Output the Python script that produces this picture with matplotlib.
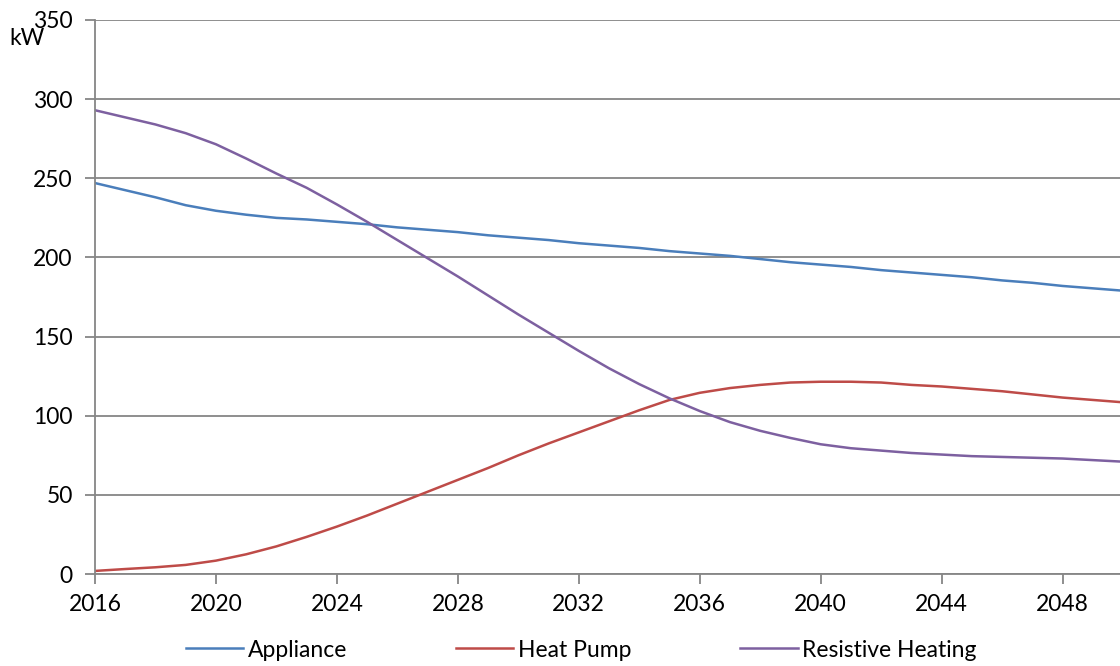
import matplotlib
matplotlib.use("Agg")
import matplotlib.pyplot as plt

years = list(range(2016, 2051))

appliance = [247, 242.5, 238, 233, 229.5, 227, 225, 224, 222.5, 221,
             219, 217.5, 216, 214, 212.5, 211, 209, 207.5, 206, 204,
             202.5, 201, 199, 197, 195.5, 194, 192, 190.5, 189, 187.5,
             185.5, 184, 182, 180.5, 179]

heat_pump = [2, 3.2, 4.3, 5.8, 8.5, 12.5, 17.5, 23.5, 30, 37,
             44.5, 52, 59.5, 67, 75, 82.5, 89.5, 96.5, 103.5, 110,
             114.5, 117.5, 119.5, 121, 121.5, 121.5, 121, 119.5, 118.5, 117,
             115.5, 113.5, 111.5, 110, 108.5]

resistive = [293, 288.5, 284, 278.5, 271.5, 262.5, 253, 244, 233.5, 222.5,
             211, 199.5, 188, 176, 164, 152.5, 141, 130, 120, 111,
             103, 96, 90.5, 86, 82, 79.5, 78, 76.5, 75.5, 74.5,
             74, 73.5, 73, 72, 71]

x_ticks = list(range(2016, 2049, 4))
y_ticks = list(range(0, 351, 50))

plt.rcParams['font.family'] = ['Lato', 'DejaVu Sans']
plt.rcParams['font.size'] = 16.5

fig = plt.figure(figsize=(11.2, 6.66), dpi=100)
ax = fig.add_axes([0.0848, 0.138, 0.9152, 0.832])

grey = "#868686"
ax.plot(years, appliance, color="#4a7ebb", lw=1.8, label="Appliance")
ax.plot(years, heat_pump, color="#be4b48", lw=1.8, label="Heat Pump")
ax.plot(years, resistive, color="#7d60a0", lw=1.8, label="Resistive Heating")

ax.set_xlim(2016, 2049.9)
ax.set_ylim(0, 350)
ax.set_xticks(x_ticks)
ax.set_yticks(y_ticks)
ax.yaxis.grid(True, color=grey, lw=1.3)
ax.set_axisbelow(True)

for side in ("top", "right"):
    ax.spines[side].set_visible(False)
for side in ("left", "bottom"):
    ax.spines[side].set_color(grey)
    ax.spines[side].set_linewidth(1.3)
ax.tick_params(axis="both", color=grey, width=1.3, length=7, labelsize=16.5)
ax.tick_params(axis="x", pad=7)
ax.tick_params(axis="y", pad=9)

fig.text(0.008, 0.942, "kW", fontsize=16.5, ha="left", va="center")

fig.legend(loc="center", bbox_to_anchor=(0.519, 0.024), ncol=3, frameon=False,
           handlelength=2.5, handletextpad=0.2, columnspacing=4.75, fontsize=16.5)

fig.savefig("out.png", dpi=100)
